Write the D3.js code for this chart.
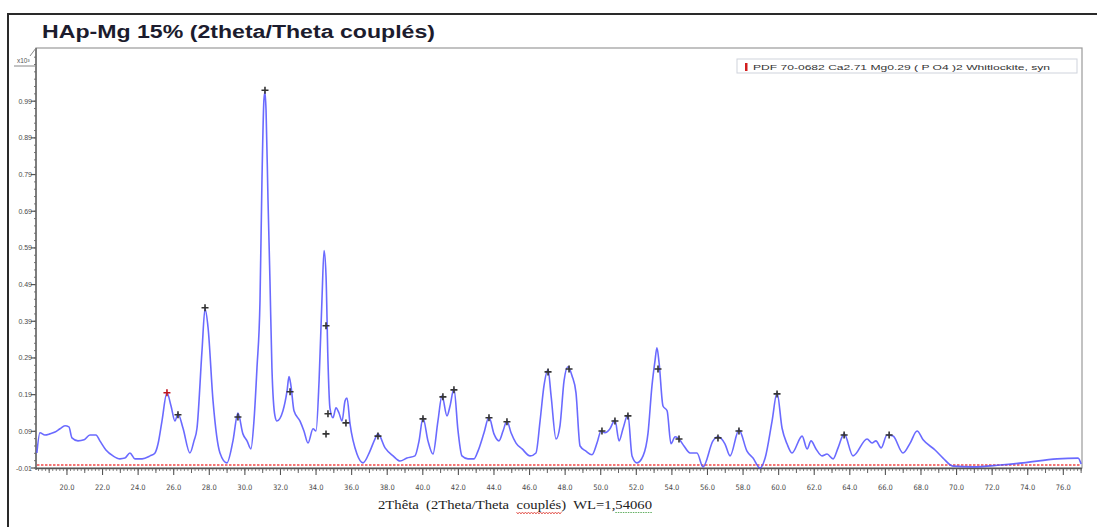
<!DOCTYPE html>
<html><head><meta charset="utf-8">
<script src="https://cdn.jsdelivr.net/npm/d3@7"></script>
<style>body{margin:0;background:#fff}svg{display:block}</style>
</head><body>
<svg id="c" width="1097" height="527"></svg>
<script>
// ---- data (2θ in degrees, intensity in counts x10^3) ----
const twoTheta = [18.31,18.48,18.76,19.04,19.33,19.61,19.89,20.11,20.28,20.62,20.96,21.29,21.63,21.85,22.19,22.59,22.98,23.26,23.54,23.82,24.22,24.67,24.95,25.12,25.34,25.62,25.85,26.07,26.24,26.52,26.91,27.14,27.31,27.59,27.76,27.93,28.21,28.60,28.99,29.33,29.61,29.89,30.12,30.34,30.51,30.68,30.85,30.96,31.07,31.13,31.19,31.30,31.41,31.52,31.69,31.80,32.14,32.37,32.48,32.59,32.76,33.10,33.32,33.55,33.83,34.00,34.17,34.33,34.45,34.56,34.67,34.78,34.95,35.12,35.29,35.46,35.63,35.74,35.91,36.30,36.64,37.03,37.31,37.48,37.88,38.33,38.72,39.11,39.56,39.79,40.01,40.29,40.57,40.85,41.08,41.36,41.53,41.75,41.98,42.20,42.54,42.88,43.10,43.44,43.72,44.00,44.28,44.51,44.73,44.96,45.24,45.58,46.03,46.36,46.59,46.81,47.04,47.21,47.49,47.71,47.94,48.16,48.39,48.61,48.84,49.17,49.51,49.79,50.02,50.24,50.52,50.80,51.03,51.25,51.53,51.76,52.04,52.38,52.66,52.88,53.05,53.16,53.28,53.50,53.73,53.95,54.18,54.40,54.68,55.02,55.41,55.75,56.31,56.59,56.98,57.27,57.77,58.22,58.56,58.95,59.24,59.63,59.91,60.19,60.47,60.75,61.32,61.60,61.82,62.10,62.44,62.72,63.06,63.34,63.68,64.18,64.97,65.25,65.47,65.76,66.09,66.43,66.99,67.39,67.78,68.12,68.79,69.24,69.80,70.93,72.45,73.74,75.65,76.83,77.00];
const intensity = [0.031,0.086,0.080,0.083,0.088,0.097,0.105,0.102,0.072,0.064,0.067,0.080,0.080,0.064,0.039,0.023,0.015,0.017,0.031,0.015,0.015,0.023,0.031,0.056,0.118,0.195,0.159,0.118,0.138,0.099,0.031,0.064,0.099,0.310,0.424,0.373,0.173,0.031,0.004,0.064,0.140,0.083,0.064,0.042,0.118,0.263,0.446,0.774,0.993,1.015,0.965,0.720,0.501,0.263,0.132,0.118,0.146,0.200,0.239,0.214,0.146,0.118,0.091,0.058,0.097,0.091,0.228,0.446,0.583,0.515,0.282,0.154,0.127,0.154,0.140,0.118,0.173,0.181,0.110,0.028,0.004,0.036,0.069,0.083,0.045,0.023,0.009,0.017,0.023,0.064,0.127,0.064,0.028,0.118,0.187,0.132,0.159,0.206,0.091,0.023,0.015,0.015,0.036,0.086,0.129,0.083,0.064,0.091,0.118,0.086,0.058,0.042,0.023,0.031,0.118,0.214,0.258,0.187,0.069,0.105,0.228,0.266,0.241,0.195,0.050,0.036,0.026,0.058,0.091,0.086,0.097,0.121,0.064,0.097,0.135,0.023,0.004,0.023,0.086,0.214,0.282,0.318,0.277,0.159,0.146,0.056,0.075,0.069,0.050,0.031,0.031,-0.007,0.064,0.075,0.056,0.023,0.094,0.036,0.017,-0.010,0.017,0.118,0.195,0.099,0.056,0.031,0.077,0.042,0.064,0.042,0.023,0.028,0.015,0.045,0.083,0.023,0.069,0.058,0.064,0.045,0.080,0.077,0.031,0.058,0.091,0.067,0.039,0.017,-0.005,-0.007,-0.002,0.004,0.015,0.017,0.001];
// identified peaks (black +)
const peakTheta = [26.24,27.76,29.61,31.13,32.54,34.56,34.67,34.56,35.68,37.48,40.01,41.13,41.75,43.72,44.73,47.04,48.22,50.07,50.80,51.53,53.22,54.40,56.59,57.77,59.91,63.68,66.21];
const peakIntensity = [0.135,0.427,0.129,1.020,0.198,0.378,0.138,0.083,0.113,0.077,0.124,0.184,0.203,0.127,0.116,0.252,0.260,0.091,0.118,0.132,0.260,0.069,0.072,0.091,0.192,0.080,0.080];
// reference-pattern marker (red +)
const refPeakTheta = [25.62];
const refPeakIntensity = [0.195];
const xTickLabels = ["20.0","22.0","24.0","26.0","28.0","30.0","32.0","34.0","36.0","38.0","40.0","42.0","44.0","46.0","48.0","50.0","52.0","54.0","56.0","58.0","60.0","62.0","64.0","66.0","68.0","70.0","72.0","74.0","76.0"];
const yTickLabels = ["-0.01","0.09","0.19","0.29","0.39","0.49","0.59","0.69","0.79","0.89","0.99"];
const titleText = "HAp-Mg 15% (2theta/Theta couplés)";
const legendText = "PDF 70-0682 Ca2.71 Mg0.29 ( P O4 )2 Whitlockite, syn";

// ---- layout ----
const svg = d3.select("#c");
const L = 36, R = 1082, T = 48, B = 468;
const x = d3.scaleLinear().domain([18.26, 77.05]).range([L, R]);
const y = d3.scaleLinear().domain([-0.01, 1.135]).range([B, T]);

// outer frame
svg.append("path").attr("d", `M8,527 V14 H1097`).attr("fill","none").attr("stroke","#2a2a2a").attr("stroke-width",2);

// title
svg.append("text").attr("x",42).attr("y",38).attr("font-family","Arial, Liberation Sans, sans-serif")
  .attr("font-weight","bold").attr("font-size",18).attr("fill","#1c1c2e").attr("textLength",393)
  .attr("lengthAdjust","spacingAndGlyphs").text(titleText);

// plot frame
svg.append("rect").attr("x",L).attr("y",T).attr("width",R-L).attr("height",B-T)
  .attr("fill","none").attr("stroke","#9a9a9a").attr("stroke-width",1.2);

// y axis
const yMajor = yTickLabels.map(Number);
const yMinor = d3.range(0, 58).map(i => -0.01 + i*0.02).filter(v => v <= 1.13);
const yAx = svg.append("g");
yAx.selectAll(".ym").data(yMinor).join("line")
  .attr("x1",L-2).attr("x2",L).attr("y1",d=>y(d)).attr("y2",d=>y(d)).attr("stroke","#777").attr("stroke-width",1);
yAx.selectAll(".yM").data(yMajor).join("line")
  .attr("x1",L-5).attr("x2",L).attr("y1",d=>y(d)).attr("y2",d=>y(d)).attr("stroke","#555").attr("stroke-width",1.2);
yAx.selectAll("text").data(yTickLabels).join("text")
  .attr("x",L-4).attr("y",d=>y(+d)+2.5).attr("text-anchor","end")
  .attr("font-family","Arial, Liberation Sans, sans-serif").attr("font-size",7).attr("fill","#4a4a4a").text(d=>d);
svg.append("line").attr("x1",L).attr("x2",L).attr("y1",T).attr("y2",B+2).attr("stroke","#666").attr("stroke-width",1.5);
// exponent label
svg.append("text").attr("x",17).attr("y",63).attr("font-family","Arial, sans-serif").attr("font-size",6.5).attr("fill","#555").text("x10³");
svg.append("line").attr("x1",14).attr("x2",L).attr("y1",66).attr("y2",66).attr("stroke","#888").attr("stroke-width",1);
svg.append("line").attr("x1",30).attr("x2",L).attr("y1",56).attr("y2",T).attr("stroke","#888").attr("stroke-width",1);

// x axis
const xMajor = xTickLabels.map(Number);
const xSmall = d3.range(0, 295).map(i => +(18.4 + i*0.2).toFixed(1)).filter(v => v < 77.05);
const xMid = d3.range(19, 78).filter(v => v % 2 === 1);
const xAx = svg.append("g");
xAx.selectAll(".xs").data(xSmall).join("line")
  .attr("x1",d=>x(d)).attr("x2",d=>x(d)).attr("y1",B).attr("y2",B+3).attr("stroke","#666").attr("stroke-width",0.8);
xAx.selectAll(".xm").data(xMid).join("line")
  .attr("x1",d=>x(d)).attr("x2",d=>x(d)).attr("y1",B).attr("y2",B+5).attr("stroke","#666").attr("stroke-width",1);
xAx.selectAll(".xM").data(xMajor).join("line")
  .attr("x1",d=>x(d)).attr("x2",d=>x(d)).attr("y1",B).attr("y2",B+7).attr("stroke","#555").attr("stroke-width",1.1);
xAx.selectAll("text").data(xTickLabels).join("text")
  .attr("x",d=>x(+d)).attr("y",B+22).attr("text-anchor","middle")
  .attr("font-family","DejaVu Sans Condensed, Arial, sans-serif").attr("font-size",7.5).attr("fill","#4a4a4a").text(d=>d);
svg.append("line").attr("x1",L).attr("x2",R).attr("y1",B+0.5).attr("y2",B+0.5).attr("stroke","#555").attr("stroke-width",1.6);

// red reference baseline (dashed)
svg.append("line").attr("x1",L+1).attr("x2",R-1).attr("y1",y(-0.002)).attr("y2",y(-0.002))
  .attr("stroke","#f04848").attr("stroke-width",1.4).attr("stroke-dasharray","2.5,1.5");

// data curve
const line = d3.line().x((d,i)=>x(twoTheta[i])).y(d=>y(d)).curve(d3.curveMonotoneX);
svg.append("path").datum(intensity).attr("d",line).attr("fill","none")
  .attr("stroke","#5050ff").attr("stroke-width",1.6).attr("stroke-linejoin","round").attr("opacity",0.85);

// peak markers
function cross(g, xs, ys, color){
  const s = 3.5;
  const pts = xs.map((v,i)=>[x(v), y(ys[i])]);
  g.selectAll(null).data(pts).join("path")
    .attr("d",d=>`M${d[0]-s},${d[1]}H${d[0]+s}M${d[0]},${d[1]-s}V${d[1]+s}`)
    .attr("stroke",color).attr("stroke-width",1.6).attr("fill","none");
}
cross(svg.append("g"), peakTheta, peakIntensity, "#333");
cross(svg.append("g"), refPeakTheta, refPeakIntensity, "#c0141e");

// legend
svg.append("rect").attr("x",737).attr("y",59).attr("width",340).attr("height",14)
  .attr("fill","#fff").attr("stroke","#cfd3dc").attr("stroke-width",1);
svg.append("rect").attr("x",745).attr("y",63).attr("width",2.5).attr("height",8).attr("fill","#d21e1e");
svg.append("text").attr("x",753).attr("y",69.5).attr("font-family","Arial, Liberation Sans, sans-serif")
  .attr("font-size",8).attr("fill","#333").attr("textLength",297).attr("lengthAdjust","spacingAndGlyphs").text(legendText);

// x axis title (with spell-check underlines as in the source)
const xt = svg.append("text").attr("x",378).attr("y",509).attr("font-family","Liberation Serif, Times New Roman, serif")
  .attr("font-size",11.5).attr("fill","#222").attr("xml:space","preserve")
  .attr("textLength",274).attr("lengthAdjust","spacingAndGlyphs");
const parts = ["2Thêta  (2Theta/Theta  ", "couplés", ")  WL=1,", "54060"];
parts.forEach(p => xt.append("tspan").text(p));
const node = xt.node();
const st1 = parts[0].length, st2 = parts[0].length+parts[1].length+parts[2].length;
try {
  const a0 = node.getStartPositionOfChar(st1).x, a1 = node.getEndPositionOfChar(st1+parts[1].length-1).x;
  let d = "M"+a0+",512"; for (let px=a0; px<a1; px+=3) d += ` L${px+1.5},514 L${px+3},512`;
  svg.append("path").attr("d",d).attr("fill","none").attr("stroke","#e0443c").attr("stroke-width",0.8);
  const b0 = node.getStartPositionOfChar(st2).x, b1 = node.getEndPositionOfChar(st2+parts[3].length-1).x;
  svg.append("line").attr("x1",b0).attr("x2",b1).attr("y1",512.5).attr("y2",512.5).attr("stroke","#3a9a3a").attr("stroke-width",0.8).attr("stroke-dasharray","1.5,1");
} catch(e) {}
</script>
</body></html>
